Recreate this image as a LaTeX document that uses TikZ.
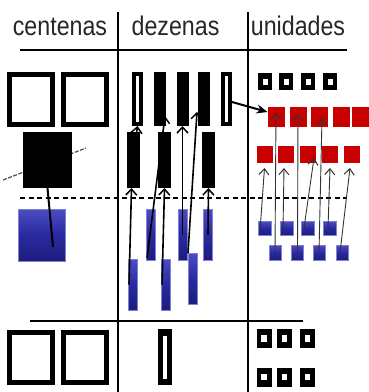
\documentclass[tikz,border=0pt]{standalone}
\usepackage{fontspec}
\setmainfont{Liberation Sans}
\usetikzlibrary{arrows.meta}
\definecolor{redsq}{RGB}{200,0,0}
\definecolor{bluesq}{RGB}{42,42,160}
\definecolor{bluelt}{RGB}{75,75,195}
\definecolor{bluedk}{RGB}{28,28,125}
\tikzset{
  box/.style={rectangle, inner sep=0pt, outer sep=0pt},
  hole/.style 2 args={path picture={\fill[white] ([xshift=-#1,yshift=-#2]path picture bounding box.center) rectangle ([xshift=#1,yshift=#2]path picture bounding box.center);}},
  hundred/.style={box, fill=black, minimum width=48pt, minimum height=55pt, hole={19pt}{22.5pt}},
  rodo/.style={box, fill=black, minimum width=11pt, minimum height=54pt, hole={1.5pt}{23pt}},
  rodf/.style={box, fill=black, minimum width=12pt, minimum height=54pt},
  rodm/.style={box, fill=black, minimum width=13pt, minimum height=56pt},
  unitb/.style={box, fill=black, minimum width=14pt, minimum height=17pt, hole={2.5pt}{3pt}},
  unitc/.style={box, fill=black, minimum width=15pt, minimum height=19pt, hole={2.7pt}{3.2pt}},
  reda/.style={box, fill=redsq, minimum width=17pt, minimum height=20pt},
  redb/.style={box, fill=redsq, minimum width=16pt, minimum height=17pt},
  bluefill/.style={box, top color=bluelt, bottom color=bluedk, middle color=bluesq, draw=bluelt!70!white, line width=0.5pt},
  bluerod/.style={bluefill, minimum width=9pt, minimum height=51pt},
  blueu/.style={bluefill, minimum width=13pt, minimum height=14pt},
  bluev/.style={bluefill, minimum width=12pt, minimum height=15pt},
  grid/.style={line width=1.3pt, black},
  hdr/.style={anchor=base, inner sep=0pt, text=black!85, font=\fontsize{27}{27}\selectfont},
  tenarr/.style={line width=1.6pt, -{Straight Barb[length=6pt,width=11pt,line width=1.5pt]}},
  unarr/.style={line width=0.9pt, black!80, -{Straight Barb[length=6pt,width=10pt,line width=1pt]}},
  bigarr/.style={line width=2pt, -{Stealth[length=11pt,width=9pt]}},
}
\begin{document}
\begin{tikzpicture}[x=1pt,y=-1pt]
\useasboundingbox (0,0) rectangle (369,392);
% headers
\node[hdr] (hc) at (60,35) {\scalebox{0.86}[1]{centenas}};
\node[hdr] (hd) at (175.5,35) {\scalebox{0.86}[1]{dezenas}};
\node[hdr] (hu) at (298,35) {\scalebox{0.86}[1]{unidades}};
% grid lines
\draw[grid] (118,12) -- (118,392);
\draw[grid] (248,12) -- (248,392);
\draw[grid] (20,50) -- (347,50);
\draw[grid] (30,321) -- (303,321);
\draw[line width=1.3pt, dash pattern=on 5pt off 3.5pt] (20,198) -- (347,198);
% hundreds
\node[hundred] (h1) at (31,99.5) {};
\node[hundred] (h2) at (84.5,99.5) {};
\coordinate (cutA) at (3,180);
\coordinate (cutB) at (86,148);
\draw[black!70, line width=1.2pt, dash pattern=on 4pt off 1.5pt] (cutA) -- (cutB);
\node[box, fill=black, minimum width=49pt, minimum height=56pt] (hm) at (47.5,160) {};
\node[bluefill, minimum width=47pt, minimum height=52pt] (hq) at (41.5,235) {};
\draw[line width=2pt] (hm.south) -- ([xshift=11.5pt,yshift=-12pt]hq.center);
% tens
\node[rodo] (t1) at (137.5,99) {};
\node[rodf] (t2) at (160,99) {};
\node[rodf] (t3) at (182.5,99) {};
\node[rodf] (t4) at (204,99) {};
\node[rodo] (t5) at (226.5,99) {};
\node[rodm] (ra) at (133.5,160) {};
\node[rodm] (rb) at (164.5,160) {};
\node[rodm] (rc) at (208.5,160) {};
\node[bluerod] (b1) at (151,234.5) {};
\node[bluerod] (b2) at (182.5,234.5) {};
\node[bluerod] (b3) at (208,234.5) {};
\node[bluerod] (b4) at (133,284.5) {};
\node[bluerod] (b5) at (166,284.5) {};
\node[bluerod] (b6) at (192.5,278.5) {};
% units
\node[unitb] (u1) at (265,81.5) {};
\node[unitb] (u2) at (286,81.5) {};
\node[unitb] (u3) at (308,81.5) {};
\node[unitb] (u4) at (330,81.5) {};
\node[reda] (R1) at (276,117) {};
\node[reda] (R2) at (298,117) {};
\node[reda] (R3) at (319.5,117) {};
\node[reda] (R4) at (341,117) {};
\node[reda] (R5) at (360.5,117) {};
\node[redb] (S1) at (264.5,154.5) {};
\node[redb] (S2) at (285.5,154.5) {};
\node[redb] (S3) at (308,154.5) {};
\node[redb] (S4) at (330,154.5) {};
\node[redb] (S5) at (351.5,154.5) {};
\node[blueu] (B1) at (265,228) {};
\node[blueu] (B2) at (287,228) {};
\node[blueu] (B3) at (308,228) {};
\node[blueu] (B4) at (330,228) {};
\node[bluev] (C1) at (275,252.5) {};
\node[bluev] (C2) at (297.5,252.5) {};
\node[bluev] (C3) at (319,252.5) {};
\node[bluev] (C4) at (342,252.5) {};
% bottom row
\node[hundred] (bh1) at (31,357) {};
\node[hundred] (bh2) at (84.5,357) {};
\node[box, fill=black, minimum width=14pt, minimum height=56pt, hole={2pt}{21.5pt}] (bt) at (165,357) {};
\node[unitc] (d1) at (264,338.5) {};
\node[unitc] (d2) at (284.5,338.5) {};
\node[unitc] (d3) at (307.5,338.5) {};
\node[unitc] (e1) at (264,377) {};
\node[unitc] (e2) at (284.5,377) {};
\node[unitc] (e3) at (307.5,377) {};
% tens arrows
\draw[tenarr] ([xshift=1.5pt,yshift=-13pt]ra.north) -- (t1.south);
\draw[tenarr] ([xshift=-4pt]b4.center) -- ([xshift=-2pt]ra.south);
\draw[tenarr] ([xshift=-4pt,yshift=2pt]b1.south) -- ([xshift=5pt,yshift=10pt]t2.south);
\draw[tenarr] ([xshift=-4pt]b5.center) -- (rb.south);
\draw[tenarr] (b2.center) -- (t3.south);
\draw[tenarr] (b6.north west) -- ([xshift=-1pt,yshift=14pt]t4.south west);
\draw[tenarr] (b3.center) -- (rc.south);
\draw[bigarr] ([yshift=-3pt]t5.east) -- ([yshift=5pt]R1.west);
% units arrows
\draw[unarr] ([xshift=-5pt,yshift=-3pt]B1.center) -- ([yshift=-5pt]S1.south);
\draw[unarr] ([xshift=-4pt,yshift=-2pt]B2.center) -- ([xshift=-1.5pt,yshift=-5pt]S2.south);
\draw[unarr] ([xshift=-4pt]B3.center) -- ([xshift=6pt,yshift=5pt]S3.south);
\draw[unarr] ([xshift=-2pt]B4.center) -- ([yshift=-5pt]S4.south);
\draw[unarr] ([xshift=-2pt]C4.center) -- ([xshift=-1.5pt,yshift=-5pt]S5.south);
\draw[unarr] (C1.center) -- ([yshift=4pt]R1.center);
\draw[unarr] (C2.center) -- ([yshift=3pt]R2.center);
\draw[unarr] (C3.center) -- ([xshift=2.5pt,yshift=-1pt]R3.center);
\end{tikzpicture}
\end{document}
